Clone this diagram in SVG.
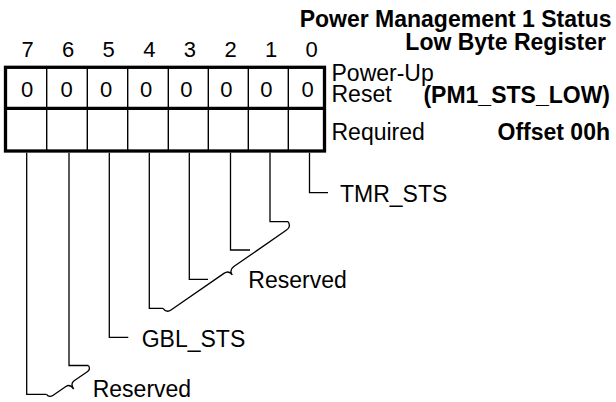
<svg xmlns="http://www.w3.org/2000/svg" width="616" height="402" viewBox="0 0 616 402">
<style>
.t{font-family:"Liberation Sans",Arial,sans-serif;font-size:23px;fill:#000}
.d{font-family:"Liberation Sans",Arial,sans-serif;font-size:22px;fill:#000;text-anchor:middle}
.b{font-family:"Liberation Sans",Arial,sans-serif;font-size:23px;font-weight:bold;fill:#000;text-anchor:end}
.thick{stroke:#000;stroke-width:3.3;fill:none}
.thin{stroke:#000;stroke-width:1.4;fill:none}
.ln{stroke:#000;stroke-width:1.3;fill:none;stroke-linejoin:miter}
</style>
<rect width="616" height="402" fill="#fff"/>
<g id="title">
<text class="b" x="611.5" y="26.8">Power Management 1 Status</text>
<text class="b" x="606" y="50.3">Low Byte Register</text>
<text class="b" x="610" y="103.3">(PM1_STS_LOW)</text>
<text class="b" x="610" y="140">Offset 00h</text>
</g>
<g id="bit-numbers">
<text class="d" x="27.5" y="57.3">7</text>
<text class="d" x="68.1" y="57.3">6</text>
<text class="d" x="108.7" y="57.3">5</text>
<text class="d" x="149.3" y="57.3">4</text>
<text class="d" x="189.9" y="57.3">3</text>
<text class="d" x="230.5" y="57.3">2</text>
<text class="d" x="271.1" y="57.3">1</text>
<text class="d" x="311.7" y="57.3">0</text>
</g>
<g id="register">
<path class="thin" d="M46.7,67.3V151 M87.3,67.3V151 M127.7,67.3V151 M168.3,67.3V151 M208.3,67.3V151 M248.3,67.3V151 M288.3,67.3V151"/>
<rect class="thick" x="5.5" y="67.3" width="319" height="83.7"/>
<path class="thick" d="M5.5,108.3H324.5"/>
<text class="d" x="27" y="96.7">0</text>
<text class="d" x="66.5" y="96.7">0</text>
<text class="d" x="106" y="96.7">0</text>
<text class="d" x="146.2" y="96.7">0</text>
<text class="d" x="186.3" y="96.7">0</text>
<text class="d" x="226.3" y="96.7">0</text>
<text class="d" x="266.3" y="96.7">0</text>
<text class="d" x="307.5" y="96.7">0</text>
</g>
<g id="row-labels">
<text class="t" x="331.5" y="81.3">Power-Up</text>
<text class="t" x="331.5" y="101.9">Reset</text>
<text class="t" x="331.5" y="140">Required</text>
</g>
<g id="connectors">
<path class="ln" d="M309.5,152.7V192.7H328"/>
<path class="ln" d="M270,152.7V221.7H288"/>
<path class="ln" d="M230.5,152.7V250H250"/>
<path class="ln" d="M189.3,152.7V279.3H208"/>
<path class="ln" d="M149.3,152.7V308.3H163"/>
<path class="ln" d="M109.3,152.7V337.3H128.3"/>
<path class="ln" d="M69,152.7V365.5H88.5"/>
<path class="ln" d="M26.7,152.7V394.3H46.5"/>
<path class="ln" transform="translate(163,308.3) rotate(-34.7)" d="M0,0 Q0,6 6,6 H70 Q76,6 76,12 Q76,6 82,6 H146.1 Q152.1,6 152.1,0"/>
<path class="ln" transform="translate(46.5,394.3) rotate(-34.4)" d="M0,0 Q0,4.5 5,4.5 H20.4 Q25.4,4.5 25.4,11 Q25.4,4.5 30.4,4.5 H45.9 Q50.9,4.5 50.9,0"/>
</g>
<g id="field-labels">
<text class="t" x="340" y="201.5">TMR_STS</text>
<text class="t" x="248.3" y="288">Reserved</text>
<text class="t" x="141.7" y="346.5">GBL_STS</text>
<text class="t" x="92.7" y="396.5">Reserved</text>
</g>
</svg>
